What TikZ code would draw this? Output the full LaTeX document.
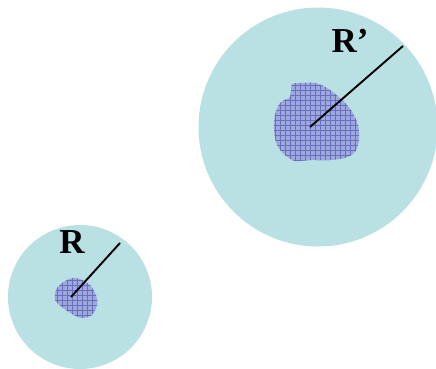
\documentclass[tikz,border=0pt]{standalone}
\usepackage{fontspec}
\setmainfont{Liberation Serif}
\definecolor{disk}{HTML}{B9E0E3}
\definecolor{blobfill}{HTML}{9EA8DC}
\definecolor{blobgrid}{HTML}{6670BE}
\tikzset{
  disk/.style={fill=disk, draw=none},
  radius line/.style={line width=1.9pt, black},
  lbl/.style={font=\bfseries\fontsize{35}{38}\selectfont, inner sep=0pt},
  hatch/.style={blobgrid, line width=0.8pt},
}
\begin{document}
\begin{tikzpicture}[x=1pt,y=-1pt]
\useasboundingbox (0,0) rectangle (436,368);
% large disk
\fill[disk] (318,127) circle (119.5);
% small disk
\fill[disk] (80,297) circle (72);
% large blob
\begin{scope}
\clip plot[smooth cycle, tension=0.5] coordinates {(292,84) (300,83) (315,83) (327,88) (340,98) (351,110) (358,125) (359,140) (355,152) (345,158) (330,160) (310,160) (295,161) (285,155) (277,145) (274,130) (275,115) (280,103) (290,97) (291,90)};
\fill[blobfill] (270,80) rectangle (362,164);
\foreach \k in {0,...,18} {
  \draw[hatch] (270+5*\k,80) -- (270+5*\k,164);
  \draw[hatch] (270,80+5*\k) -- (362,80+5*\k);
}
\end{scope}
% small blob
\begin{scope}
\clip plot[smooth cycle, tension=0.5] coordinates {(62,283) (72,278) (80,279) (90,285) (96,295) (97,305) (92,315) (82,318) (72,314) (62,307) (55,300) (56,290)};
\fill[blobfill] (52,275) rectangle (100,320);
\foreach \k in {0,...,9} {
  \draw[hatch] (52+5*\k,275) -- (52+5*\k,320);
  \draw[hatch] (52,275+5*\k) -- (100,275+5*\k);
}
\end{scope}
% radius lines
\coordinate (c1) at (310,127);
\coordinate (e1) at (403,46);
\coordinate (c2) at (71,297);
\coordinate (e2) at (120,243);
\draw[radius line] (c1) -- (e1);
\draw[radius line] (c2) -- (e2);
% labels
\node[lbl] (Rp) at (350,41) {R’};
\node[lbl] (R) at (72,242) {R};
\end{tikzpicture}
\end{document}
